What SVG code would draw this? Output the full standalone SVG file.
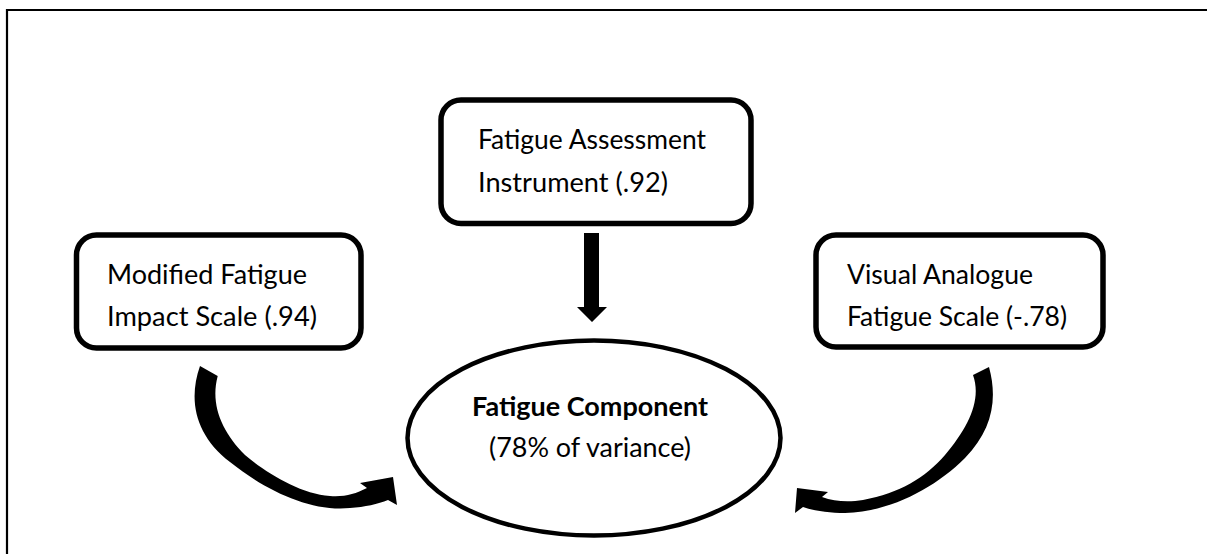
<svg xmlns="http://www.w3.org/2000/svg" width="1207" height="554" viewBox="0 0 1207 554">
<style>
.box{fill:#fff;stroke:#000;stroke-width:5.5}
.ell{fill:#fff;stroke:#000;stroke-width:4.5}
.t{font-family:Lato,"Liberation Sans",Arial,sans-serif;font-size:27px;fill:#000}
.e{font-size:26px}
.b{font-weight:bold}
.arr{fill:#000;stroke:none}
</style>
<rect width="1207" height="554" fill="#fff"/>
<path d="M7,554 V10 H1207" fill="none" stroke="#000" stroke-width="2.2"/>
<g id="node-fai">
<rect class="box" x="441" y="100" width="310" height="123.5" rx="20"/>
<text class="t" x="478" y="149" textLength="228" lengthAdjust="spacingAndGlyphs">Fatigue Assessment</text>
<text class="t" x="478" y="192" textLength="190" lengthAdjust="spacingAndGlyphs">Instrument (.92)</text>
</g>
<g id="node-mfis">
<rect class="box" x="76.5" y="235" width="284.5" height="113" rx="20"/>
<text class="t" x="107" y="284" textLength="200" lengthAdjust="spacingAndGlyphs">Modified Fatigue</text>
<text class="t" x="107" y="326" textLength="210" lengthAdjust="spacingAndGlyphs">Impact Scale (.94)</text>
</g>
<g id="node-vafs">
<rect class="box" x="816" y="235" width="287" height="112" rx="20"/>
<text class="t" x="847" y="284" textLength="186" lengthAdjust="spacingAndGlyphs">Visual Analogue</text>
<text class="t" x="847" y="326" textLength="220" lengthAdjust="spacingAndGlyphs">Fatigue Scale (-.78)</text>
</g>
<g id="node-component">
<ellipse class="ell" cx="594" cy="438" rx="186.5" ry="97.5"/>
<text class="t e b" x="472" y="416" textLength="236" lengthAdjust="spacingAndGlyphs">Fatigue Component</text>
<text class="t e" x="489" y="457" textLength="202" lengthAdjust="spacingAndGlyphs">(78% of variance)</text>
</g>
<g id="connectors">
<polygon class="arr" points="584,233 599,233 599,307 607,307 592,322 577,307 584,307"/>
<path class="arr" d="M200,366 C188,400 195,435 230,462 C265,490 310,512 350,508 C365,507 378,504 388,500 L397,505 L393,477 L360,483 L367,488 C355,494 345,497 330,496 C300,494 265,472 245,455 C222,432 210,405 217.7,376 Z"/>
<path class="arr" d="M989,367 C998,400 992,430 965,458 C935,488 890,512 845,513 C830,513 815,511 803,507 L795,513 L797,488 L828,492 L822,497 C835,502 850,502 863,500 C900,493 925,478 945,455 C968,428 982,400 973,375 Z"/>
</g>
</svg>
